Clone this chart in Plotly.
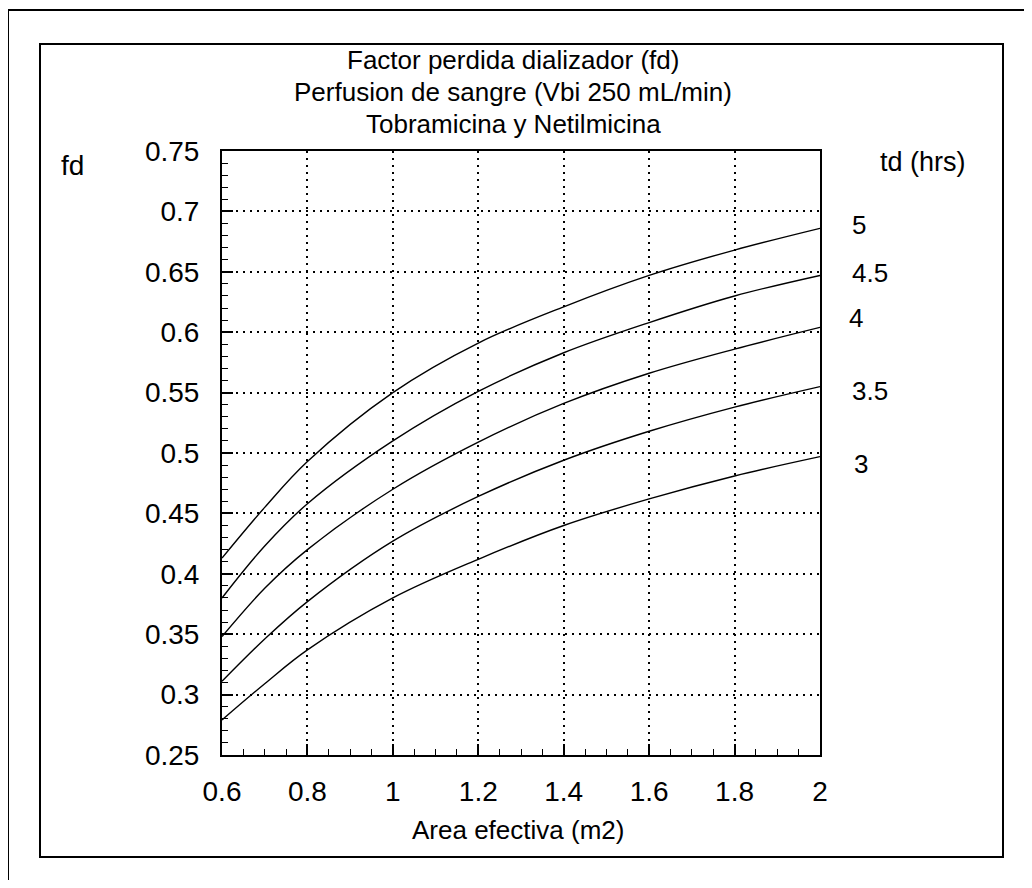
import plotly.graph_objects as go

# ---- data ----
area = [0.6, 0.7, 0.8, 1.0, 1.2, 1.4, 1.6, 1.8, 2.0]
fd_td5 = [0.413, 0.455, 0.493, 0.550, 0.591, 0.621, 0.647, 0.668, 0.686]
fd_td45 = [0.380, 0.423, 0.458, 0.510, 0.551, 0.583, 0.608, 0.630, 0.647]
fd_td4 = [0.348, 0.388, 0.420, 0.470, 0.509, 0.541, 0.566, 0.586, 0.604]
fd_td35 = [0.311, 0.346, 0.377, 0.427, 0.464, 0.494, 0.518, 0.538, 0.555]
fd_td3 = [0.279, 0.309, 0.337, 0.380, 0.412, 0.440, 0.462, 0.481, 0.497]
series_labels = ["5", "4.5", "4", "3.5", "3"]

x_tickvals = [0.6, 0.8, 1.0, 1.2, 1.4, 1.6, 1.8, 2.0]
x_ticktext = ["0.6", "0.8", "1", "1.2", "1.4", "1.6", "1.8", "2"]
y_tickvals = [0.25, 0.3, 0.35, 0.4, 0.45, 0.5, 0.55, 0.6, 0.65, 0.7, 0.75]
y_ticktext = ["0.25", "0.3", "0.35", "0.4", "0.45", "0.5", "0.55", "0.6", "0.65", "0.7", "0.75"]

title_lines = ["Factor perdida dializador (fd)",
               "Perfusion de sangre (Vbi 250 mL/min)",
               "Tobramicina y Netilmicina"]
x_title = "Area efectiva (m2)"
y_title = "fd"
series_title = "td (hrs)"

# ---- figure ----
# the page body adds an 8px margin, so the figure is 16px smaller than the window
OFF = 8
W, H = 1016, 872
L, T = 222 - OFF, 151 - OFF
pw, ph = 598, 604
R, B = W - L - pw, H - T - ph


def px_x(p):
    """screen x (reference pixels) -> paper x"""
    return (p - OFF - L) / pw


def px_y(p):
    """screen y (reference pixels) -> paper y"""
    return (T + ph - (p - OFF)) / ph


FONT = "Liberation Sans, Arial, Helvetica, sans-serif"

fig = go.Figure()
all_series = [fd_td5, fd_td45, fd_td4, fd_td35, fd_td3]
for vals, lab in zip(all_series, series_labels):
    fig.add_trace(go.Scatter(x=area, y=vals, mode="lines", name=lab,
                             line=dict(color="black", width=1.4, shape="spline"),
                             showlegend=False, hoverinfo="x+y"))

axis_common = dict(showline=True, linewidth=2, linecolor="black", mirror=True,
                   showgrid=True, gridcolor="black", griddash="2px,5px", gridwidth=1.5,
                   ticks="inside", ticklen=11, tickwidth=1.5, tickcolor="black",
                   zeroline=False, tickfont=dict(family=FONT, size=28, color="black"),
                   fixedrange=True)

fig.update_xaxes(range=[0.6, 2.0], tickmode="array", tickvals=x_tickvals, ticktext=x_ticktext,
                 minor=dict(tick0=0.6, dtick=0.05, ticks="inside", ticklen=6,
                            tickwidth=1, tickcolor="black", showgrid=False),
                 ticklabelstandoff=10, **axis_common)
fig.update_yaxes(range=[0.25, 0.75], tickmode="array", tickvals=y_tickvals, ticktext=y_ticktext,
                 minor=dict(tick0=0.25, dtick=0.01, ticks="inside", ticklen=6,
                            tickwidth=1, tickcolor="black", showgrid=False),
                 ticklabelstandoff=15, **axis_common)

annotations = []
title_y_px = [60, 92, 124]
for line, ypx in zip(title_lines, title_y_px):
    annotations.append(dict(text=line, xref="paper", yref="paper", x=px_x(513), y=px_y(ypx),
                            xanchor="center", yanchor="middle", showarrow=False,
                            font=dict(family=FONT, size=26, color="black")))
annotations.append(dict(text=x_title, xref="paper", yref="paper", x=px_x(518), y=px_y(830),
                        xanchor="center", yanchor="middle", showarrow=False,
                        font=dict(family=FONT, size=26, color="black")))
annotations.append(dict(text=y_title, xref="paper", yref="paper", x=px_x(72), y=px_y(165),
                        xanchor="center", yanchor="middle", showarrow=False,
                        font=dict(family=FONT, size=28, color="black")))
annotations.append(dict(text=series_title, xref="paper", yref="paper", x=px_x(923), y=px_y(162),
                        xanchor="center", yanchor="middle", showarrow=False,
                        font=dict(family=FONT, size=27, color="black")))
label_shift = [(30, 3), (30, 2), (27, 9), (30, -4), (32, -7)]
for vals, lab, (dx, dy) in zip(all_series, series_labels, label_shift):
    annotations.append(dict(text=lab, x=area[-1], y=vals[-1], xref="x", yref="y",
                            xanchor="left", yanchor="middle", xshift=dx, yshift=dy,
                            showarrow=False, font=dict(family=FONT, size=26, color="black")))

shapes = [
    dict(type="rect", xref="paper", yref="paper",
         x0=px_x(8), x1=px_x(1060), y0=px_y(920), y1=px_y(10),
         line=dict(color="black", width=2), fillcolor="rgba(0,0,0,0)", layer="below"),
    dict(type="rect", xref="paper", yref="paper",
         x0=px_x(40), x1=px_x(1003), y0=px_y(857), y1=px_y(44),
         line=dict(color="black", width=2), fillcolor="rgba(0,0,0,0)", layer="below"),
]

fig.update_layout(width=W, height=H, margin=dict(l=L, r=R, t=T, b=B, autoexpand=False),
                  paper_bgcolor="white", plot_bgcolor="white",
                  font=dict(family=FONT, color="black"),
                  annotations=annotations, shapes=shapes)

fig.write_html("out.html", config={"displayModeBar": False})
